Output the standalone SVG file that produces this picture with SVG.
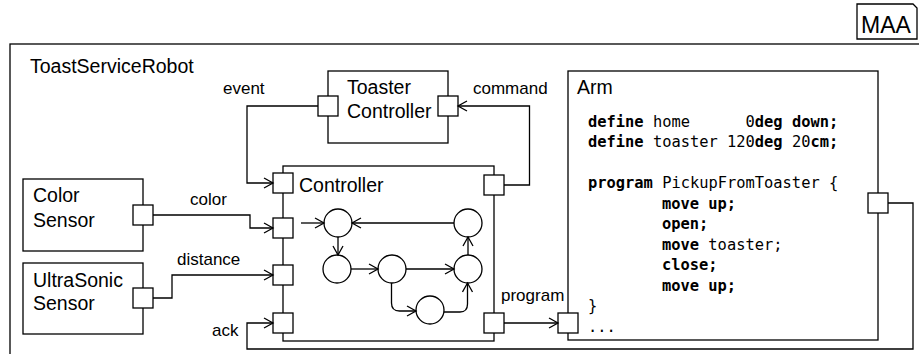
<svg xmlns="http://www.w3.org/2000/svg" width="919" height="354" viewBox="0 0 919 354">
<defs>
<style>
.box{fill:#fff;stroke:#000;stroke-width:1.3}
.port{fill:#fff;stroke:#000;stroke-width:1.3}
.ln{fill:none;stroke:#000;stroke-width:1.3}
.arr{fill:none;stroke:#000;stroke-width:1.3;marker-end:url(#ah)}
.st{fill:#fff;stroke:#000;stroke-width:1.3}
.lbl{font-family:"Liberation Sans",Arial,sans-serif;font-size:19.5px;fill:#000}
.cl{font-family:"Liberation Sans",Arial,sans-serif;font-size:17px;fill:#000}
.code{font-family:"DejaVu Sans Mono","Liberation Mono",monospace;font-size:15.4px;fill:#000}
.kw{font-weight:bold}
</style>
<marker id="ah" markerUnits="userSpaceOnUse" markerWidth="12" markerHeight="12" refX="10" refY="6" orient="auto">
<path d="M1,1 L10,6 L1,11" fill="none" stroke="#000" stroke-width="1.3"/>
</marker>
</defs>
<rect width="919" height="354" fill="#fff"/>

<g id="maa">
<path d="M857,4 H913 L917,8 V39 H857 Z" class="box"/>
<text x="861" y="32.5" class="lbl" style="font-size:23px">MAA</text>
</g>

<g id="toastServiceRobot">
<rect x="10" y="44" width="930" height="330" class="box"/>
<text x="30" y="73" class="lbl">ToastServiceRobot</text>
</g>

<g id="toasterController">
<rect x="328" y="71" width="120" height="72" class="box"/>
<text x="347" y="94" class="lbl">Toaster</text>
<text x="347" y="118" class="lbl">Controller</text>
<rect x="318" y="96" width="20" height="20" class="port"/>
<rect x="438" y="96" width="20" height="20" class="port"/>
</g>

<g id="colorSensor">
<rect x="23" y="179" width="120" height="72" class="box"/>
<text x="33" y="202" class="lbl">Color</text>
<text x="33" y="227" class="lbl">Sensor</text>
<rect x="133" y="205" width="20" height="20" class="port"/>
</g>

<g id="ultraSonicSensor">
<rect x="23" y="263" width="120" height="71" class="box"/>
<text x="33" y="287" class="lbl">UltraSonic</text>
<text x="33" y="310" class="lbl">Sensor</text>
<rect x="133" y="288" width="20" height="20" class="port"/>
</g>

<g id="controller">
<rect x="283" y="166" width="211" height="175" class="box"/>
<text x="299" y="192" class="lbl">Controller</text>
<rect x="273" y="173" width="20" height="20" class="port"/>
<rect x="273" y="218" width="20" height="20" class="port"/>
<rect x="273" y="265" width="20" height="20" class="port"/>
<rect x="273" y="313" width="20" height="20" class="port"/>
<rect x="484" y="175" width="20" height="20" class="port"/>
<rect x="484" y="313" width="20" height="20" class="port"/>
<g id="stateMachine">
<circle cx="338" cy="223" r="14" class="st"/>
<circle cx="468" cy="223" r="14" class="st"/>
<circle cx="337" cy="269" r="14" class="st"/>
<circle cx="392" cy="269" r="14" class="st"/>
<circle cx="468" cy="269" r="14" class="st"/>
<circle cx="430" cy="310" r="14" class="st"/>
<path d="M301,223 H324" class="arr"/>
<path d="M454,223 H352" class="arr"/>
<path d="M338,237 V255" class="arr"/>
<path d="M351,269 H378" class="arr"/>
<path d="M406,269 H454" class="arr"/>
<path d="M468,255 V237" class="arr"/>
<path d="M391.5,283 V303 Q391.5,311 399.5,311 H416" class="arr"/>
<path d="M444,312 H460 Q467.5,312 467.5,304 V283" class="arr"/>
</g>
</g>

<g id="arm">
<rect x="568" y="71" width="310" height="269" class="box"/>
<text x="577" y="94" class="lbl">Arm</text>
<text class="code" x="588" y="126.5" xml:space="preserve"><tspan class="kw">define</tspan> home      0<tspan class="kw">deg down;</tspan></text>
<text class="code" x="588" y="147" xml:space="preserve"><tspan class="kw">define</tspan> toaster 120<tspan class="kw">deg</tspan> 20<tspan class="kw">cm;</tspan></text>
<text class="code" x="588" y="188" xml:space="preserve"><tspan class="kw">program</tspan> PickupFromToaster {</text>
<text class="code kw" x="662" y="208.5">move up;</text>
<text class="code kw" x="662" y="229">open;</text>
<text class="code" x="662" y="249.5" xml:space="preserve"><tspan class="kw">move</tspan> toaster;</text>
<text class="code kw" x="662" y="270">close;</text>
<text class="code kw" x="662" y="290.5">move up;</text>
<text class="code" x="588" y="311">}</text>
<text class="code" x="588" y="331.5">...</text>
<rect x="558" y="313" width="20" height="20" class="port"/>
<rect x="868" y="193" width="20" height="20" class="port"/>
</g>

<g id="connectors">
<path d="M318,106 H247 V183 H273" class="arr"/>
<text x="223" y="94" class="cl">event</text>
<path d="M504,185 H529.5 V106 H458" class="arr"/>
<text x="473" y="94" class="cl">command</text>
<path d="M153,215 H250 V228 H273" class="arr"/>
<text x="190" y="205" class="cl">color</text>
<path d="M153,298 H172 V275 H273" class="arr"/>
<text x="177" y="265" class="cl">distance</text>
<path d="M888,203 H913 V349 H247 V323 H273" class="arr"/>
<text x="212" y="336" class="cl">ack</text>
<path d="M504,323 H558" class="arr"/>
<text x="501" y="301" class="cl">program</text>
</g>
</svg>
